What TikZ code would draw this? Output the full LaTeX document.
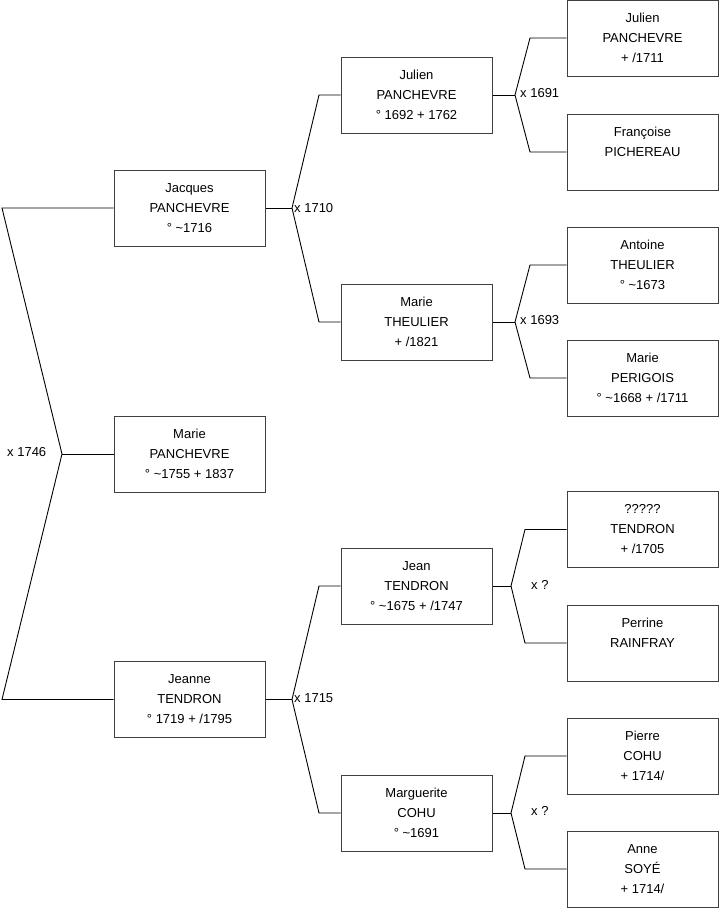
\documentclass[tikz,border=0pt]{standalone}
\usepackage{fontspec}
\setmainfont{Liberation Sans}
\begin{document}
\begin{tikzpicture}[x=1pt,y=-1pt,
  person/.style={draw=black!75, line width=1pt, minimum width=151pt, minimum height=76pt, inner sep=0pt, align=center, font=\fontsize{13}{20}\selectfont, fill=white},
  link/.style={draw=black, line width=0.9pt},
  mlabel/.style={anchor=west, inner sep=0pt, font=\fontsize{13}{16}\selectfont}]
\useasboundingbox (0,0) rectangle (719,908);
% generation 1
\node[person] (jacques) at (189.5,208) {Jacques\\PANCHEVRE\\° \textasciitilde1716};
\node[person] (marie) at (189.5,454) {Marie\\PANCHEVRE\\° \textasciitilde1755 + 1837};
\node[person] (jeanne) at (189.5,699.5) {Jeanne\\TENDRON\\° 1719 + /1795};
% generation 2
\node[person] (julien) at (416.5,95) {Julien\\PANCHEVRE\\° 1692 + 1762};
\node[person] (marieT) at (416.5,322) {Marie\\THEULIER\\+ /1821};
\node[person] (jean) at (416.5,586) {Jean\\TENDRON\\° \textasciitilde1675 + /1747};
\node[person] (marguerite) at (416.5,813) {Marguerite\\COHU\\° \textasciitilde1691};
% generation 3
\node[person] (julienP) at (642.5,38) {Julien\\PANCHEVRE\\+ /1711};
\node[person] (francoise) at (642.5,152) {Françoise\\PICHEREAU\\\mbox{}};
\node[person] (antoine) at (642.5,265) {Antoine\\THEULIER\\° \textasciitilde1673};
\node[person] (marieP) at (642.5,378) {Marie\\PERIGOIS\\° \textasciitilde1668 + /1711};
\node[person] (inconnu) at (642.5,529.5) {?????\\TENDRON\\+ /1705};
\node[person] (perrine) at (642.5,643) {Perrine\\RAINFRAY\\\mbox{}};
\node[person] (pierre) at (642.5,756) {Pierre\\COHU\\+ 1714/};
\node[person] (anne) at (642.5,869) {Anne\\SOYÉ\\+ 1714/};
% junction coordinates
\coordinate (r1) at (2,208);
\coordinate (rv) at (62,454);
\coordinate (r2) at (2,699.5);
\coordinate (aV) at (292,208);
\coordinate (a1) at (319,95);
\coordinate (a2) at (319,322);
\coordinate (bV) at (292,699.5);
\coordinate (b1) at (319,586);
\coordinate (b2) at (319,813);
\coordinate (cV) at (515,95);
\coordinate (c1) at (530,38);
\coordinate (c2) at (530,152);
\coordinate (dV) at (515,322);
\coordinate (d1) at (530,265);
\coordinate (d2) at (530,378);
\coordinate (eV) at (511,586);
\coordinate (e1) at (525,529.5);
\coordinate (e2) at (525,643);
\coordinate (fV) at (511,813);
\coordinate (f1) at (525,756);
\coordinate (f2) at (525,869);
% connectors
\draw[link] (jacques.west) -- (r1) -- (rv) -- (r2) -- (jeanne.west);
\draw[link] (rv) -- (marie.west);
\draw[link] (jacques.east) -- (aV);
\draw[link] (julien.west) -- (a1) -- (aV) -- (a2) -- (marieT.west);
\draw[link] (jeanne.east) -- (bV);
\draw[link] (jean.west) -- (b1) -- (bV) -- (b2) -- (marguerite.west);
\draw[link] (julien.east) -- (cV);
\draw[link] (julienP.west) -- (c1) -- (cV) -- (c2) -- (francoise.west);
\draw[link] (marieT.east) -- (dV);
\draw[link] (antoine.west) -- (d1) -- (dV) -- (d2) -- (marieP.west);
\draw[link] (jean.east) -- (eV);
\draw[link] (inconnu.west) -- (e1) -- (eV) -- (e2) -- (perrine.west);
\draw[link] (marguerite.east) -- (fV);
\draw[link] (pierre.west) -- (f1) -- (fV) -- (f2) -- (anne.west);
% marriage labels
\node[mlabel] (m0) at (7,452) {x 1746};
\node[mlabel] (m1) at (294,208) {x 1710};
\node[mlabel] (m2) at (294,698) {x 1715};
\node[mlabel] (m3) at (520,93) {x 1691};
\node[mlabel] (m4) at (520,320) {x 1693};
\node[mlabel] (m5) at (531,585) {x ?};
\node[mlabel] (m6) at (531,811) {x ?};
\end{tikzpicture}
\end{document}
